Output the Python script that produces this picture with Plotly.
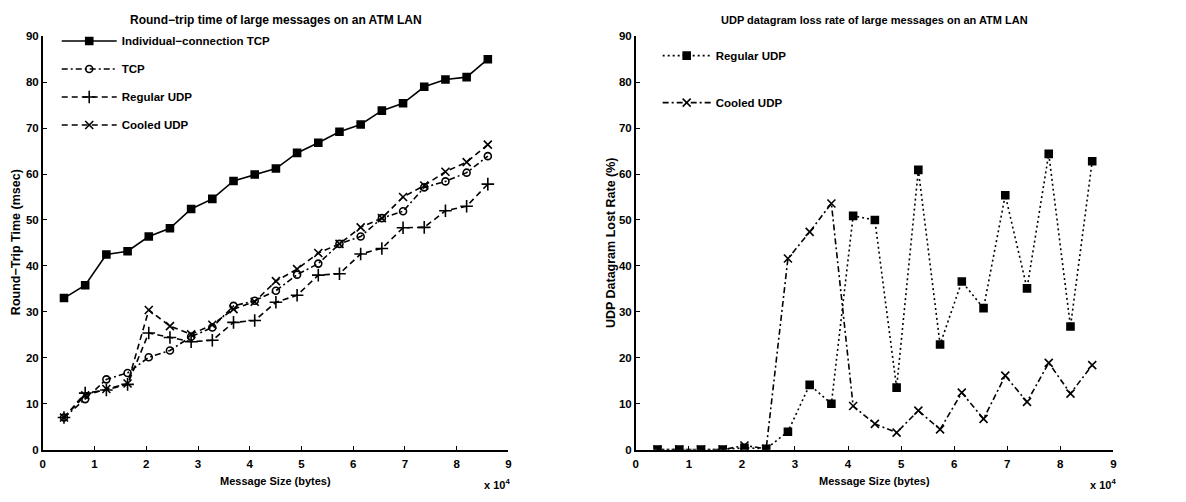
import plotly.graph_objects as go

# ---------------- data ----------------
sizes = [4096, 8192, 12288, 16384, 20480, 24576, 28672, 32768, 36864, 40960, 45056,
         49152, 53248, 57344, 61440, 65536, 69632, 73728, 77824, 81920, 86016]

ind_tcp = [33.0, 35.8, 42.5, 43.2, 46.4, 48.2, 52.4, 54.6, 58.5, 59.9, 61.2,
           64.6, 66.8, 69.2, 70.8, 73.8, 75.4, 79.0, 80.6, 81.1, 85.0]
tcp = [7.0, 11.0, 15.3, 16.7, 20.1, 21.6, 24.6, 26.6, 31.3, 32.4, 34.6,
       38.1, 40.5, 44.8, 46.4, 50.4, 51.9, 57.1, 58.4, 60.3, 63.9]
reg_udp = [7.0, 12.3, 13.0, 14.2, 25.4, 24.4, 23.5, 23.8, 27.7, 28.1, 32.1,
           33.6, 38.0, 38.3, 42.6, 43.8, 48.3, 48.4, 52.0, 53.0, 57.8]
cooled_udp = [7.0, 11.8, 13.2, 14.4, 30.4, 26.9, 25.1, 27.2, 30.6, 32.2, 36.7,
              39.3, 42.8, 44.8, 48.4, 50.4, 55.0, 57.5, 60.5, 62.6, 66.4]

loss_regular = [0.0, 0.0, 0.0, 0.0, 0.4, 0.2, 3.9, 14.1, 10.0, 50.9, 50.0,
                13.5, 60.9, 22.9, 36.6, 30.8, 55.4, 35.1, 64.4, 26.8, 62.8]
loss_cooled = [0.0, 0.0, 0.0, 0.0, 0.9, 0.2, 41.6, 47.4, 53.6, 9.5, 5.6,
               3.7, 8.5, 4.4, 12.4, 6.7, 16.1, 10.4, 18.9, 12.2, 18.4]

tick_vals = [0, 10000, 20000, 30000, 40000, 50000, 60000, 70000, 80000, 90000]
tick_text = ["0", "1", "2", "3", "4", "5", "6", "7", "8", "9"]
y_ticks = [0, 10, 20, 30, 40, 50, 60, 70, 80, 90]

# ---------------- style ----------------
FONT = "Liberation Sans, Arial, sans-serif"
BLACK = "#000000"
DASH = "6px,4px"
DASHDOT = "6px,3px,2px,3px"
DOT = "2px,3px"

fig = go.Figure()

def add(x, y, name, dash, symbol, size, xa, ya, legend, group):
    fig.add_trace(go.Scatter(
        x=x, y=y, name=name, mode="lines+markers",
        xaxis=xa, yaxis=ya, legend=legend, legendgroup=group,
        line=dict(color=BLACK, width=1.6, dash=dash),
        marker=dict(symbol=symbol, size=size, color=BLACK,
                    line=dict(color=BLACK, width=1.6)),
    ))

add(sizes, ind_tcp, "Individual\u2212connection TCP", "solid", "square", 7, "x", "y", "legend", "g1")
add(sizes, tcp, "TCP", DASHDOT, "circle-open", 7, "x", "y", "legend", "g2")
add(sizes, reg_udp, "Regular UDP", DASH, "cross-thin-open", 9, "x", "y", "legend", "g3")
add(sizes, cooled_udp, "Cooled UDP", DASH, "x-thin-open", 8, "x", "y", "legend", "g4")

add(sizes, loss_regular, "Regular UDP", DOT, "square", 7, "x2", "y2", "legend2", "g5")
add(sizes, loss_cooled, "Cooled UDP", DASHDOT, "x-thin-open", 8, "x2", "y2", "legend2", "g6")

W, H = 1186, 502
def px(v):
    return v / W
def py(v):
    return 1 - v / H

ydom = [py(454.5), py(31)]
axis_common = dict(
    showline=True, linecolor=BLACK, linewidth=1.6, mirror=False,
    ticks="inside", ticklen=4, tickwidth=1.3, tickcolor=BLACK,
    showgrid=False, zeroline=False,
    tickfont=dict(family=FONT, size=11.5, color=BLACK, weight="bold"),
)

fig.update_layout(
    width=W, height=H,
    margin=dict(l=0, r=0, t=0, b=0),
    paper_bgcolor="white", plot_bgcolor="white",
    showlegend=True,
    xaxis=dict(domain=[px(40), px(508)], range=[0, 90000], tickvals=tick_vals,
               ticktext=tick_text, anchor="y", ticklabelstandoff=3, **axis_common),
    yaxis=dict(domain=ydom, range=[0, 90], tickvals=y_ticks, anchor="x", **axis_common),
    xaxis2=dict(domain=[px(636), px(1116)], range=[0, 90000], tickvals=tick_vals,
                ticktext=tick_text, anchor="y2", ticklabelstandoff=3, **axis_common),
    yaxis2=dict(domain=ydom, range=[0, 90], tickvals=y_ticks, anchor="x2", **axis_common),
    legend=dict(x=px(54), y=py(21), xanchor="left", yanchor="top",
                font=dict(family=FONT, size=11.5, color=BLACK, weight="bold"),
                bgcolor="rgba(0,0,0,0)", borderwidth=0,
                tracegroupgap=9, itemwidth=55, traceorder="grouped"),
    legend2=dict(x=px(658), y=py(36), xanchor="left", yanchor="top",
                 font=dict(family=FONT, size=11.5, color=BLACK, weight="bold"),
                 bgcolor="rgba(0,0,0,0)", borderwidth=0,
                 tracegroupgap=28, itemwidth=48, traceorder="grouped"),
)

def ann(text, x, y, size, angle=0):
    fig.add_annotation(xref="paper", yref="paper", showarrow=False,
                       xanchor="center", yanchor="middle", textangle=angle,
                       text=text, x=x, y=y,
                       font=dict(family=FONT, size=size, color=BLACK, weight="bold"))

ann("Round\u2212trip time of large messages on an ATM LAN", px(274), py(14), 12)
ann("UDP datagram loss rate of large messages on an ATM LAN", px(876), py(14), 11)
ann("Message Size (bytes)", px(274), py(487), 11)
ann("Message Size (bytes)", px(876), py(487), 11)
ann("x 10<sup>4</sup>", px(497), py(490), 11)
ann("x 10<sup>4</sup>", px(1106), py(490), 11)
ann("Round\u2212Trip Time (msec)", px(13), py(242), 12.5, -90)
ann("UDP Datagram Lost Rate (%)", px(611), py(242), 12.5, -90)

fig.write_html("out.html")
